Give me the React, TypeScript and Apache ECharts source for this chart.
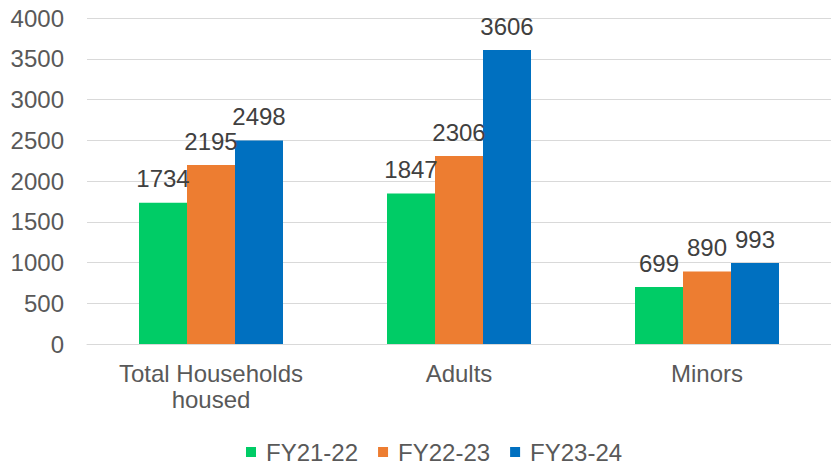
import React, { useEffect, useRef } from "react";
import * as echarts from "echarts";

const categories = ["Total Households\nhoused", "Adults", "Minors"];
const seriesNames = ["FY21-22", "FY22-23", "FY23-24"];
const fy2122 = [1734, 1847, 699];
const fy2223 = [2195, 2306, 890];
const fy2324 = [2498, 3606, 993];
const colors = ["#00CC66", "#ED7D31", "#0070C0"];

const FONT = "'Liberation Sans', Arial, sans-serif";
const FS = 24;

export default function App() {
  const ref = useRef<HTMLDivElement>(null);
  useEffect(() => {
    if (!ref.current) return;
    const chart = echarts.init(ref.current, undefined, { renderer: "svg" });
    const values = [fy2122, fy2223, fy2324];
    chart.setOption({
      animation: false,
      textStyle: { fontFamily: FONT },
      grid: { left: 87, top: 18, width: 750, height: 326, containLabel: false },
      legend: {
        left: 241,
        top: 435,
        itemWidth: 10,
        itemHeight: 10,
        itemGap: 20,
        icon: "rect",
        textStyle: { fontSize: FS, color: "#595959", fontFamily: FONT, padding: [0, 0, 0, 5] },
        data: seriesNames,
      },
      xAxis: {
        type: "category",
        data: categories,
        axisTick: { show: false },
        axisLine: { lineStyle: { color: "#D9D9D9", width: 1 } },
        axisLabel: { fontSize: FS, color: "#595959", fontFamily: FONT, margin: 16, lineHeight: 26 },
      },
      yAxis: {
        type: "value",
        min: 0,
        max: 4000,
        interval: 500,
        axisLine: { show: false },
        axisTick: { show: false },
        splitLine: { lineStyle: { color: "#D9D9D9", width: 1 } },
        axisLabel: {
          fontSize: FS,
          color: "#595959",
          fontFamily: FONT,
          margin: 23,
          formatter: (v: number) => String(v),
        },
      },
      series: seriesNames.map((name, i) => ({
        name,
        type: "bar",
        data: values[i],
        barWidth: 48,
        barGap: "0%",
        itemStyle: { color: colors[i] },
        label: {
          show: true,
          position: "top",
          distance: 12,
          fontSize: FS,
          color: "#404040",
          fontFamily: FONT,
        },
      })),
    });
    return () => chart.dispose();
  }, []);
  return <div ref={ref} style={{ width: 831, height: 464, position: "absolute", left: 0, top: 0 }} />;
}
